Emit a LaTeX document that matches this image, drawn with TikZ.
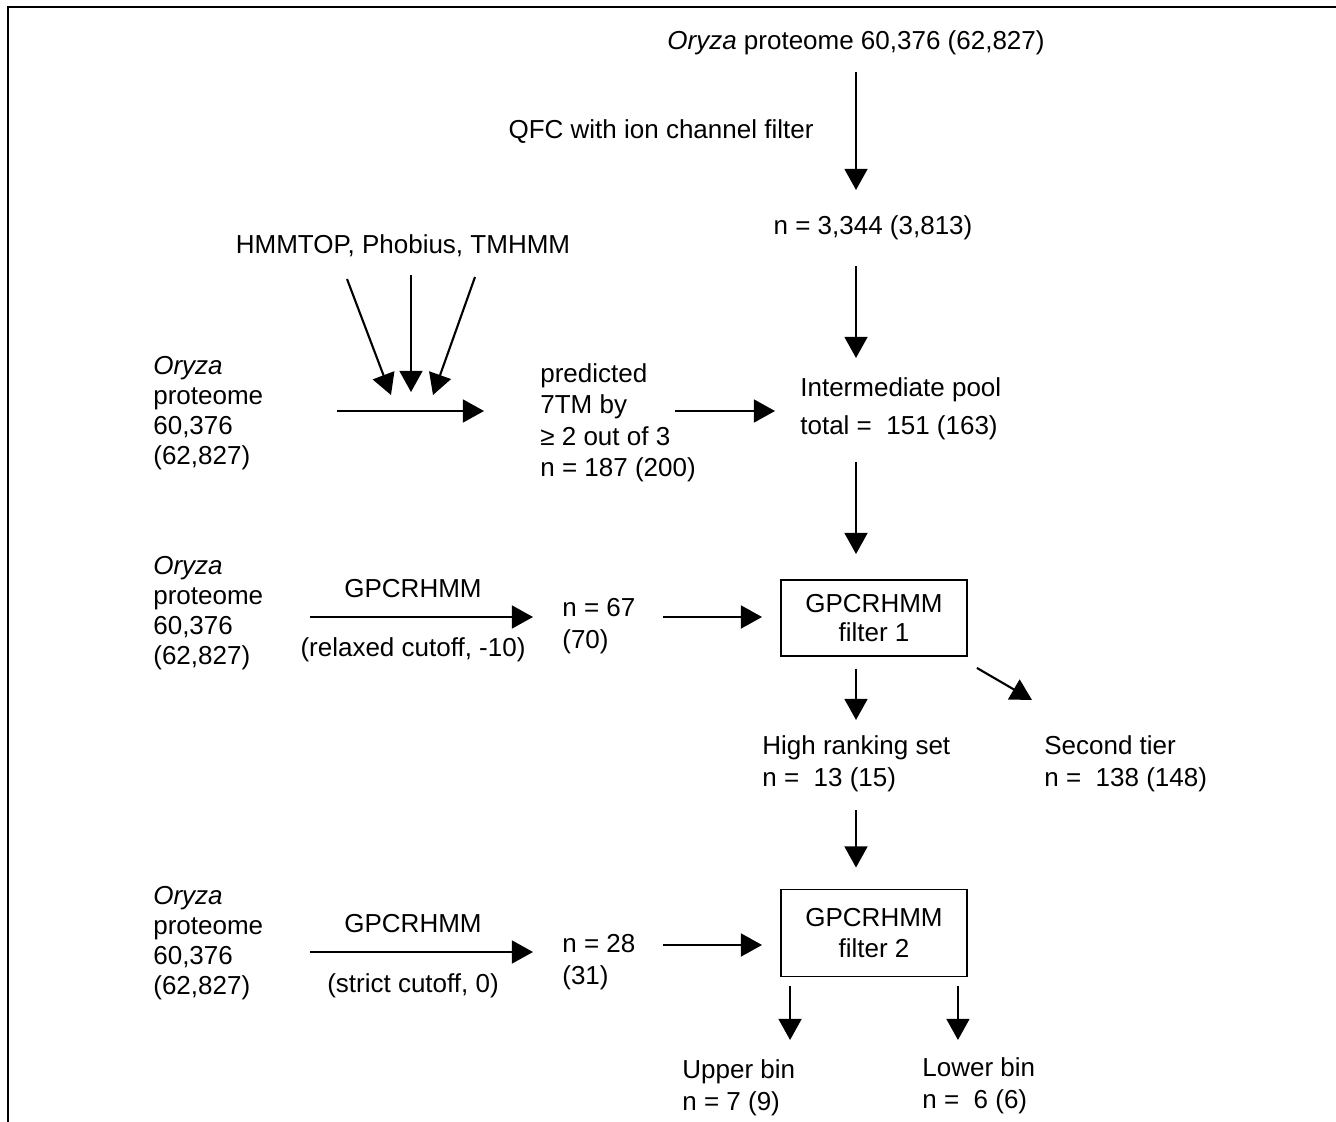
\documentclass[tikz,border=0pt]{standalone}
\usepackage{fontspec}
\setmainfont{Liberation Sans}
\usepackage{tikz}
\usetikzlibrary{arrows.meta,positioning,calc}
\tikzset{
  flow diagram/.style={
    x=0.02cm,
    y=-0.02cm,
    font=\fontsize{14.8}{17}\selectfont,
    line join=miter
  },
  labeltext/.style={inner sep=0pt, align=left},
  pairtext/.style={labeltext, font=\fontsize{14.8}{18.4}\selectfont},
  filterbox/.style={
    draw,
    line width=1.1pt,
    minimum width=3.72cm,
    align=center,
    inner sep=0pt
  },
  flowarrow/.style={-{Triangle[length=12pt,width=13pt]}, line width=1.2pt},
  framerule/.style={line width=0.9pt}
}

\begin{document}
\begin{tikzpicture}[flow diagram]
\useasboundingbox (0,0) rectangle (1336,1122);
\draw[framerule] (8,1122) -- (8,7) -- (1336,7);

% right column
\node[labeltext, anchor=base] (topset) at (856,50) {\textit{Oryza} proteome 60,376 (62,827)};
\node[labeltext, anchor=base] (qfc) at (661,138) {QFC with ion channel filter};
\node[labeltext, anchor=base] (n3344) at (873,235) {n = 3,344 (3,813)};
\node[labeltext, anchor=north west, font=\fontsize{14.8}{21.6}\selectfont] (pool) at (800,377) {Intermediate pool\\total = \ 151 (163)};
\node[filterbox, minimum height=1.52cm] (f1) at (874,618) {GPCRHMM\\filter 1};
\node[pairtext, anchor=north west] (high) at (762,735) {High ranking set\\n = \ 13 (15)};
\node[pairtext, anchor=north west] (second) at (1044,735) {Second tier\\n = \ 138 (148)};
\node[filterbox, minimum height=1.74cm, font=\fontsize{14.8}{18}\selectfont] (f2) at (874,933) {GPCRHMM\\filter 2};
\node[pairtext, anchor=north west] (upper) at (682,1059) {Upper bin\\n = 7 (9)};
\node[pairtext, anchor=north west] (lower) at (922,1057) {Lower bin\\n = \ 6 (6)};

% first row: 7TM predictors
\node[labeltext, anchor=base] (tools) at (403,254) {HMMTOP, Phobius, TMHMM};
\coordinate (meet) at (411,411);
\node[labeltext, anchor=north west] (orz1) at (153,356) {\textit{Oryza}\\proteome\\60,376\\(62,827)};
\node[labeltext, anchor=north west, font=\fontsize{14.8}{17.9}\selectfont] (pred) at (540,363) {predicted\\7TM by\\≥ 2 out of 3\\n = 187 (200)};

% second row: relaxed cutoff
\node[labeltext, anchor=north west] (orz2) at (153,556) {\textit{Oryza}\\proteome\\60,376\\(62,827)};
\node[labeltext, anchor=base] (gp1) at (413,597) {GPCRHMM};
\node[labeltext, anchor=base] (relax) at (413,656) {(relaxed cutoff, -10)};
\node[pairtext, anchor=north west] (n67) at (562,598) {n = 67\\(70)};

% third row: strict cutoff
\node[labeltext, anchor=north west] (orz3) at (153,886) {\textit{Oryza}\\proteome\\60,376\\(62,827)};
\node[labeltext, anchor=base] (gp2) at (413,932) {GPCRHMM};
\node[labeltext, anchor=base] (strict) at (413,992) {(strict cutoff, 0)};
\node[pairtext, anchor=north west] (n28) at (562,934) {n = 28\\(31)};

% connectors
\draw[flowarrow] ($(topset.base)+(0,22)$) -- ($(topset.base |- n3344.base)+(0,-45)$);
\draw[flowarrow] ($(topset.base |- n3344.base)+(0,31)$) -- ($(topset.base |- pool.north)+(0,-19)$);
\draw[flowarrow] ($(topset.base |- pool.south)+(0,22)$) -- ($(topset.base |- f1.north)+(0,-25)$);
\draw[flowarrow] ($(topset.base |- f1.south)+(0,12)$) -- ($(topset.base |- high.north)+(0,-15)$);
\draw[flowarrow] ($(f1.south east)+(9,11)$) -- ($(second.north west)+(-12,-35)$);
\draw[flowarrow] ($(topset.base |- high.south)+(0,18)$) -- ($(topset.base |- f2.north)+(0,-21)$);
\draw[flowarrow] ($(f2.south west)+(10,9)$) -- ($(f2.south west |- upper.north)+(10,-19)$);
\draw[flowarrow] ($(f2.south east)+(-10,9)$) -- ($(f2.south east |- lower.north)+(-10,-17)$);

\draw[flowarrow] ($(tools.base)+(-56,25)$) -- ($(meet)+(-20,-16)$);
\draw[flowarrow] ($(tools.base)+(8,21)$) -- ($(meet)+(0,-19)$);
\draw[flowarrow] ($(tools.base)+(72,23)$) -- ($(meet)+(22,-16)$);
\draw[flowarrow] ($(orz1.west |- meet)+(184,0)$) -- ($(pred.west |- meet)+(-56,0)$);
\draw[flowarrow] ($(pred.west |- meet)+(135,0)$) -- ($(pool.west |- meet)+(-25,0)$);

\draw[flowarrow] ($(orz2.west |- gp1.base)+(157,20)$) -- ($(n67.west |- gp1.base)+(-29,20)$);
\draw[flowarrow] ($(n67.west |- f1.center)+(101,-1)$) -- ($(f1.west)+(-18,-1)$);
\draw[flowarrow] ($(orz3.west |- gp2.base)+(157,20)$) -- ($(n28.west |- gp2.base)+(-29,20)$);
\draw[flowarrow] ($(n28.west |- f2.center)+(101,12)$) -- ($(f2.west)+(-18,12)$);
\end{tikzpicture}
\end{document}
